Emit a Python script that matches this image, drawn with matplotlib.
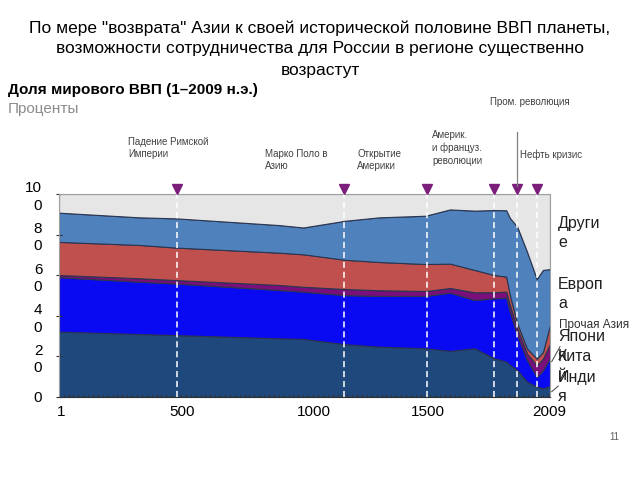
"""
Доля мирового ВВП (1-2009 н.э.) -- stacked area by region.
Writes: out.png
"""

import matplotlib
matplotlib.use("Agg")
import matplotlib.pyplot as plt
from matplotlib.lines import Line2D
from matplotlib.ticker import MultipleLocator

plt.rcParams.update({
    "font.family": ["Liberation Sans", "DejaVu Sans"],
    "font.size": 11,
})

# ---------------------------------------------------------------------------
# Data (shares of world GDP, %)
# ---------------------------------------------------------------------------
YEARS = [1, 330, 480, 900, 1000, 1170, 1310, 1500, 1600, 1700,
         1780, 1830, 1845, 1875, 1915, 1955, 1980, 2009]
INDIA = [32.2, 31.0, 30.5, 28.9, 28.6, 26.0, 24.8, 24.0, 22.7, 24.0,
         19.1, 17.4, 15.8, 13.3, 7.5, 5.1, 4.3, 5.4]
CHINA = [26.8, 25.8, 25.4, 23.8, 23.3, 24.2, 25.0, 25.8, 28.7, 23.8,
         29.5, 31.5, 26.2, 17.2, 10.7, 4.8, 8.8, 13.8]
JAPAN = [1.1, 1.7, 1.7, 2.5, 2.4, 3.0, 2.8, 2.4, 2.3, 3.8,
         3.0, 3.0, 3.3, 3.3, 3.2, 5.7, 5.8, 6.9]
OTHER_ASIA = [16.3, 16.4, 16.0, 15.9, 16.0, 14.4, 13.9, 13.3, 12.0, 11.0,
              8.5, 7.4, 4.9, 2.5, 2.5, 3.3, 3.2, 9.4]
EUROPE = [14.4, 13.6, 14.4, 13.6, 13.2, 19.2, 22.0, 23.8, 26.7, 29.2,
          32.0, 32.7, 38.0, 47.6, 47.7, 39.2, 40.5, 27.5]
OTHERS = [9.2, 11.5, 12.0, 15.3, 16.5, 13.2, 11.5, 10.7, 7.6, 8.2,
          7.9, 8.0, 11.8, 16.1, 28.4, 41.9, 37.4, 37.0]

EVENT_YEARS = [484, 1167, 1506, 1780, 1874, 1956]

X_TICKS = [8, 504, 1044, 1510, 2005]
X_TICK_LABELS = ["1", "500", "1000", "1500", "2009"]
Y_TICKS = [0, 20, 40, 60, 80, 100]
Y_TICK_LABELS = ["0", "2\n0", "4\n0", "6\n0", "8\n0", "10\n0"]

COLORS = ["#1F497D", "#0A0AF2", "#7A0E7A", "#C0504D", "#4F81BD", "#E6E6E6"]
EVENT_COLOR = "#7B1F7B"

W, H = 640, 480


def px(x, y):
    """pixel position -> figure fraction"""
    return x / W, 1 - y / H


fig = plt.figure(figsize=(6.4, 4.8), dpi=100)
ax = fig.add_axes([59 / W, 1 - 397 / H, 491 / W, 203 / H])

ax.stackplot(YEARS, INDIA, CHINA, JAPAN, OTHER_ASIA, EUROPE, OTHERS,
             colors=COLORS, edgecolor="#2A3550", linewidth=0.8)

# event markers
ax.vlines(EVENT_YEARS, 0, 100, colors="white", linestyles=(0, (4, 2.5)),
          linewidth=1.1, zorder=3)
ax.plot(EVENT_YEARS, [102.3] * len(EVENT_YEARS), "v", color=EVENT_COLOR,
        markersize=6.5, clip_on=False, zorder=4)

ax.set_xlim(YEARS[0], YEARS[-1])
ax.set_ylim(0, 100)
ax.set_xticks(X_TICKS)
ax.set_xticklabels(X_TICK_LABELS, fontsize=11)
ax.xaxis.set_minor_locator(MultipleLocator(20))
ax.set_yticks(Y_TICKS)
ax.set_yticklabels(Y_TICK_LABELS, fontsize=11, linespacing=1.3)
ax.tick_params(axis="x", which="major", length=0, pad=6)
ax.tick_params(axis="x", which="minor", length=2.5, direction="in",
               color="#303030", width=0.6)
ax.tick_params(axis="y", length=4, direction="inout", color="#303030",
               width=0.8, pad=10)
for side in ("top", "right", "left"):
    ax.spines[side].set_color("#A0A0A0")
    ax.spines[side].set_linewidth(0.8)
ax.spines["bottom"].set_color("#303030")
ax.spines["bottom"].set_linewidth(0.8)

# titles
fig.text(*px(320, 28), 'По мере "возврата" Азии к своей исторической половине ВВП планеты,',
         ha="center", va="center", fontsize=12.5)
fig.text(*px(320, 49), "возможности сотрудничества для России в регионе существенно",
         ha="center", va="center", fontsize=12.5)
fig.text(*px(320, 70), "возрастут", ha="center", va="center", fontsize=12.5)
fig.text(*px(8, 90), "Доля мирового ВВП (1–2009 н.э.)", ha="left", va="center",
         fontsize=11, fontweight="bold")
fig.text(*px(8, 109), "Проценты", ha="left", va="center", fontsize=11,
         color="#8C8C8C")

# event annotations
small = dict(ha="left", va="center", fontsize=7, color="#404040", linespacing=1.3)
fig.text(*px(128, 148), "Падение Римской\nИмперии", **small)
fig.text(*px(265, 160), "Марко Поло в\nАзию", **small)
fig.text(*px(357, 160), "Открытие\nАмерики", **small)
fig.text(*px(432, 148), "Америк.\nи француз.\nреволюции", **small)
fig.text(*px(520, 155), "Нефть кризис", **small)
fig.text(*px(490, 102), "Пром. революция", **small)
fig.add_artist(Line2D([517 / W, 517 / W], [1 - 132 / H, 1 - 186 / H],
                      color="#808080", linewidth=0.9))

# region labels on the right
big = dict(ha="left", va="center", fontsize=11.5, color="#202020", linespacing=1.35)
fig.text(*px(558, 233), "Други\nе", **big)
fig.text(*px(558, 294), "Европ\nа", **big)
fig.text(*px(559, 325), "Прочая Азия", ha="left", va="center", fontsize=8.5,
         color="#303030")
fig.text(*px(558, 346), "Япони\nя", **big)
fig.text(*px(558, 366), "Кита\nй", **big)
fig.text(*px(558, 387), "Инди\nя", **big)
fig.add_artist(Line2D([551.7 / W, 560 / W], [1 - 361.7 / H, 1 - 346.7 / H],
                      color="#404040", linewidth=0.7))
fig.add_artist(Line2D([551.7 / W, 558.3 / W], [1 - 391.7 / H, 1 - 386 / H],
                      color="#404040", linewidth=0.7))

fig.text(*px(614, 437), "11", ha="center", va="center", fontsize=7,
         color="#606060")

fig.savefig("out.png", dpi=100)
